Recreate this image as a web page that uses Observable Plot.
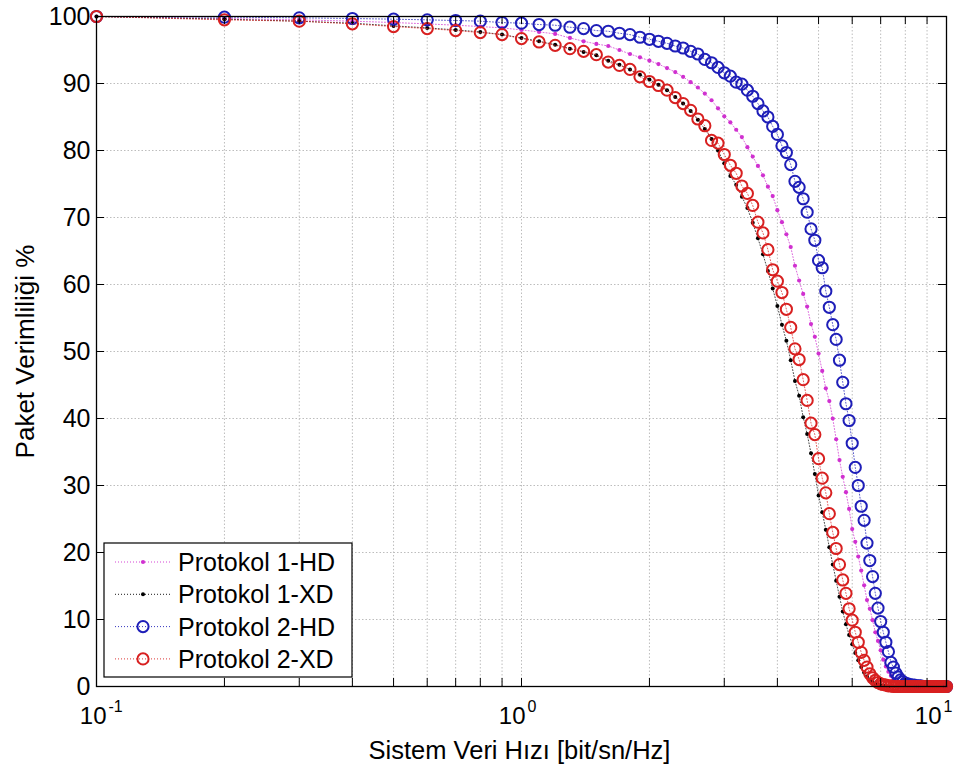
<!DOCTYPE html>
<html><head><meta charset="utf-8">
<script src="https://cdn.jsdelivr.net/npm/d3@7"></script>
<script src="https://cdn.jsdelivr.net/npm/@observablehq/plot@0.6"></script>
<style>
html,body{margin:0;padding:0;background:#fff;}
#chart{width:965px;height:764px;overflow:hidden;}
</style></head><body><div id="chart"></div>
<script>
// ---------- data ----------
const xValues = [
  0.1,0.2,0.3,0.4,0.5,0.6,0.7,0.8,0.9,1.0,
  1.1,1.2,1.3,1.4,1.5,1.6,1.7,1.8,1.9,2.0,
  2.1,2.2,2.3,2.4,2.5,2.6,2.7,2.8,2.9,3.0,
  3.1,3.2,3.3,3.4,3.5,3.6,3.7,3.8,3.9,4.0,
  4.1,4.2,4.3,4.4,4.5,4.6,4.7,4.8,4.9,5.0,
  5.1,5.2,5.3,5.4,5.5,5.6,5.7,5.8,5.9,6.0,
  6.1,6.2,6.3,6.4,6.5,6.6,6.7,6.8,6.9,7.0,
  7.1,7.2,7.3,7.4,7.5,7.6,7.7,7.8,7.9,8.0,
  8.1,8.2,8.3,8.4,8.5,8.6,8.7,8.8,8.9,9.0,
  9.1,9.2,9.3,9.4,9.5,9.6,9.7,9.8,9.9,10.0
];
// Protokol 1-HD
const hd1 = [
  100,99.7,99.5,99.3,99.1,98.9,98.7,98.5,98.3,98.0,
  97.7,97.4,96.8,96.3,95.9,95.6,95.0,94.4,93.9,93.4,
  92.9,92.3,91.7,91.0,90.2,89.4,88.5,87.5,86.3,85.1,
  84.2,83.1,82.0,80.5,79.1,77.7,76.3,74.6,73.2,71.1,
  69.3,67.5,65.6,62.8,60.6,58.6,56.7,54.1,52.2,49.7,
  47.1,44.5,42.6,40.0,36.9,33.8,31.3,29.0,26.5,23.5,
  21.6,19.4,17.3,15.1,12.9,11.6,9.9,8.1,6.8,5.4,
  4.0,3.0,2.2,1.6,1.1,0.8,0.5,0.3,0.2,0.1,
  0.1,0,0,0,0,0,0,0,0,0,
  0,0,0,0,0,0,0,0,0,0
];
// Protokol 1-XD
const xd1 = [
  100,99.6,99.3,99.0,98.6,98.3,98.0,97.7,97.3,96.8,
  96.3,95.8,95.2,94.7,94.2,93.4,92.8,92.1,91.3,90.6,
  89.8,89.0,88.0,87.0,85.9,84.6,83.2,81.7,80.0,78.1,
  76.2,74.9,73.1,71.4,69.2,66.9,64.5,62.0,59.4,56.8,
  54.0,51.6,48.7,45.6,43.4,40.2,37.7,34.8,31.7,28.5,
  26.0,23.4,20.8,18.2,15.8,13.4,11.2,9.3,7.7,6.3,
  5.0,3.9,2.9,2.1,1.5,1.0,0.7,0.4,0.3,0.2,
  0.1,0.1,0,0,0,0,0,0,0,0,
  0,0,0,0,0,0,0,0,0,0,
  0,0,0,0,0,0,0,0,0,0
];
// Protokol 2-HD
const hd2 = [
  100,99.9,99.8,99.7,99.6,99.5,99.4,99.3,99.1,99.0,
  98.8,98.7,98.4,98.2,97.9,97.8,97.5,97.3,96.9,96.6,
  96.3,96.0,95.6,95.3,94.8,94.4,93.6,93.1,92.4,91.6,
  91.1,90.2,89.9,89.0,88.1,87.0,85.9,85.0,83.6,82.4,
  80.7,79.7,77.9,75.4,74.5,72.8,70.8,68.3,66.6,63.6,
  62.5,59.0,56.6,54.0,51.8,48.7,45.4,42.2,39.7,36.3,
  32.7,30.0,26.9,24.8,21.4,18.8,16.4,13.9,11.7,9.7,
  8.1,6.6,5.2,3.6,2.9,2.0,1.4,1.0,0.7,0.5,
  0.4,0.3,0.2,0.2,0.1,0.1,0.1,0,0,0,
  0,0,0,0,0,0,0,0,0,0
];
// Protokol 2-XD
const xd2 = [
  100,99.5,99.3,98.9,98.5,98.2,97.9,97.6,97.3,96.7,
  96.2,95.7,95.2,94.8,94.3,93.2,92.7,92.1,91.0,90.3,
  89.7,89.0,87.9,87.0,86.0,84.7,83.7,81.5,81.1,79.4,
  77.8,76.6,74.7,73.6,71.8,69.3,67.7,65.2,62.2,60.5,
  58.8,56.3,53.6,50.4,48.8,45.8,42.7,39.3,37.6,34.0,
  31.1,28.9,25.8,23.0,20.6,18.2,15.9,13.9,11.6,9.9,
  8.1,6.6,5.1,3.9,2.9,1.9,1.3,0.9,0.6,0.4,
  0.3,0.2,0.1,0.1,0,0,0,0,0,0,
  0,0,0,0,0,0,0,0,0,0,
  0,0,0,0,0,0,0,0,0,0
];
const seriesNames = ["Protokol 1-HD","Protokol 1-XD","Protokol 2-HD","Protokol 2-XD"];
const yTicks = [0,10,20,30,40,50,60,70,80,90,100];
const yGrid = [10,20,30,40,50,60,70,80,90];
const xTicks = [0.1,0.2,0.3,0.4,0.5,0.6,0.7,0.8,0.9,1,2,3,4,5,6,7,8,9,10];
const xGrid = [0.2,0.3,0.4,0.5,0.6,0.7,0.8,0.9,1,2,3,4,5,6,7,8,9];
const xMajor = [0.1,1,10];
const xMajorExp = ["-1","0","1"];
const xLabel = "Sistem Veri Hızı [bit/sn/Hz]";
const yLabel = "Paket Verimliliği %";

// ---------- styles ----------
const seriesValues = [hd1, xd1, hd2, xd2];
const seriesStyle = [
  {color:"#d030d0", marker:"dot", r:2.1},
  {color:"#000000", marker:"dot", r:2.0},
  {color:"#1e1eb8", marker:"circle", r:5.6},
  {color:"#d82020", marker:"circle", r:5.6}
];
const W = 965, H = 764, mL = 96, mR = 19, mT = 16, mB = 78;
const plotW = W - mL - mR, plotH = H - mT - mB;
const FONT = "'Liberation Sans', Arial, Helvetica, sans-serif";
const expShift = [10, 4, -5];

const seriesMarks = seriesNames.flatMap((name, i) => {
  const rows = xValues.map((x, j) => ({series: name, x, y: seriesValues[i][j]}));
  const st = seriesStyle[i];
  const line = Plot.line(rows, {x: "x", y: "y", stroke: st.color, strokeWidth: 0.9, strokeDasharray: "1,2", strokeOpacity: 0.8});
  const dots = st.marker === "dot"
    ? Plot.dot(rows, {x: "x", y: "y", r: st.r, fill: st.color, stroke: "none"})
    : Plot.dot(rows, {x: "x", y: "y", r: st.r, fill: "none", stroke: st.color, strokeWidth: 2});
  return [line, dots];
});

const xLabelMarks = xMajor.flatMap((v, i) => [
  Plot.text([v], {x: d => d, frameAnchor: "bottom", text: () => "10", textAnchor: "end",
    lineAnchor: "bottom", dy: 37, dx: expShift[i], fontSize: 24, fill: "#000"}),
  Plot.text([v], {x: d => d, frameAnchor: "bottom", text: () => xMajorExp[i], textAnchor: "start",
    lineAnchor: "bottom", dy: 25, dx: expShift[i] + 2, fontSize: 16, fill: "#000"})
]);

const chart = Plot.plot({
  width: W, height: H,
  marginLeft: mL, marginRight: mR, marginTop: mT, marginBottom: mB,
  style: {fontFamily: FONT, background: "#fff", color: "#000"},
  x: {type: "log", domain: [0.1, 10], axis: null},
  y: {domain: [0, 100], axis: null},
  marks: [
    Plot.ruleX(xGrid, {x: d => d, stroke: "#bdbdbd", strokeWidth: 1, strokeDasharray: "1.5,2"}),
    Plot.ruleY(yGrid, {y: d => d, stroke: "#bdbdbd", strokeWidth: 1, strokeDasharray: "1.5,2"}),
    ...seriesMarks,
    Plot.frame({stroke: "#000", strokeWidth: 1.3}),
    Plot.tickX(xTicks, {x: d => d, stroke: "#000", insetTop: plotH - 8}),
    Plot.tickX(xTicks, {x: d => d, stroke: "#000", insetBottom: plotH - 8}),
    Plot.tickY(yTicks, {y: d => d, stroke: "#000", insetRight: plotW - 8}),
    Plot.tickY(yTicks, {y: d => d, stroke: "#000", insetLeft: plotW - 8}),
    Plot.text(yTicks, {y: d => d, frameAnchor: "left", text: d => String(d), textAnchor: "end",
      lineAnchor: "middle", dx: -6, fontSize: 25, fill: "#000"}),
    ...xLabelMarks,
    Plot.text([xLabel], {frameAnchor: "bottom", text: d => d, textAnchor: "middle", lineAnchor: "bottom", dy: 72, dx: -2, fontSize: 25.5, fill: "#000"}),
    Plot.text([yLabel], {frameAnchor: "left", text: d => d, rotate: -90, textAnchor: "middle", lineAnchor: "bottom", dx: -63, fontSize: 26, fill: "#000"})
  ]
});

// ---------- legend ----------
const svg = d3.select(chart);
const lg = svg.append("g").attr("font-family", FONT).attr("text-anchor", "start");
const box = {x: 104, y: 543, w: 248, h: 134};
lg.append("rect").attr("x", box.x).attr("y", box.y).attr("width", box.w).attr("height", box.h)
  .attr("fill", "#fff").attr("stroke", "#000").attr("stroke-width", 1.2);
seriesNames.forEach((name, i) => {
  const cy = box.y + 19 + i * 32.3;
  const st = seriesStyle[i];
  lg.append("line").attr("x1", 115).attr("x2", 171).attr("y1", cy).attr("y2", cy)
    .attr("stroke", st.color).attr("stroke-width", 0.9).attr("stroke-dasharray", "1,2");
  if (st.marker === "dot") {
    lg.append("circle").attr("cx", 143).attr("cy", cy).attr("r", st.r).attr("fill", st.color);
  } else {
    lg.append("circle").attr("cx", 143).attr("cy", cy).attr("r", st.r).attr("fill", "none")
      .attr("stroke", st.color).attr("stroke-width", 2);
  }
  lg.append("text").attr("x", 178).attr("y", cy + 9).attr("font-size", 25)
    .attr("text-anchor", "start").attr("fill", "#000").text(name);
});

document.getElementById("chart").appendChild(chart);
</script></body></html>
